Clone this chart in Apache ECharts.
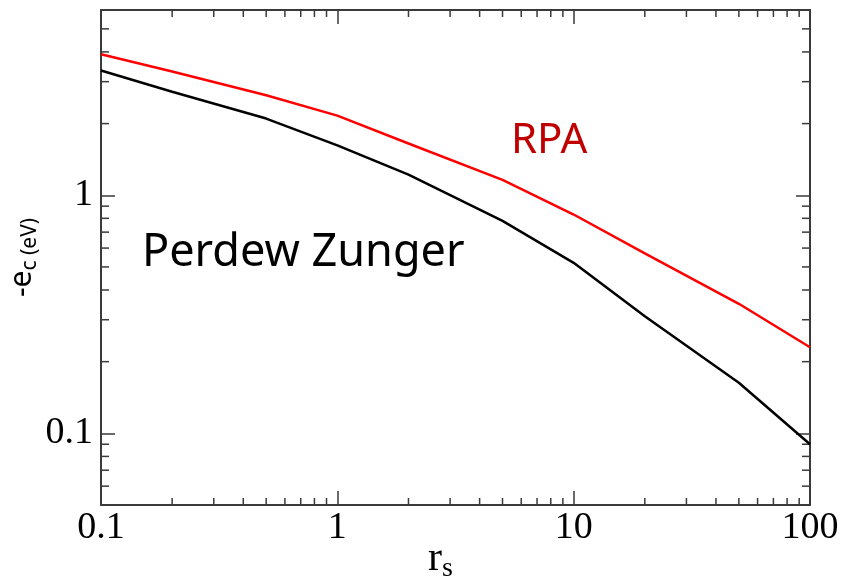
<!DOCTYPE html>
<html>
<head>
<meta charset="utf-8">
<script src="https://cdn.jsdelivr.net/npm/echarts@6/dist/echarts.min.js"></script>
<style>
  html, body { margin: 0; padding: 0; background: #fff; }
  #main { width: 843px; height: 582px; }
</style>
</head>
<body>
<div id="main"></div>
<script>
// r_s values and correlation energies (eV)
var rsValues = [0.1, 0.2, 0.5, 1, 2, 5, 10, 20, 50, 100];
var rpaValues = [3.91, 3.31, 2.63, 2.16, 1.65, 1.16, 0.83, 0.57, 0.35, 0.23];
var pzValues = [3.34, 2.72, 2.10, 1.62, 1.22, 0.78, 0.52, 0.31, 0.163, 0.09];

// tick labels and minor tick positions
var xTickLabels = ['0.1', '1', '10', '100'];
var yTickLabels = ['0.1', '1'];
var xMinorTicks = [0.2, 0.3, 0.4, 0.5, 0.6, 0.7, 0.8, 0.9, 2, 3, 4, 5, 6, 7, 8, 9, 20, 30, 40, 50, 60, 70, 80, 90];
var yMinorTicks = [0.06, 0.07, 0.08, 0.09, 0.2, 0.3, 0.4, 0.5, 0.6, 0.7, 0.8, 0.9, 2, 3, 4, 5];

var frameColor = '#3a3a3a';
var chart = echarts.init(document.getElementById('main'));

function pairs(xs, ys) {
	var out = [];
	for (var i = 0; i < xs.length; i++) {
		out.push([xs[i], ys[i]]);
	}
	return out;
}

function labelFmt(list) {
	return function (value) {
		for (var i = 0; i < list.length; i++) {
			if (Math.abs(value - parseFloat(list[i])) < 1e-6 * parseFloat(list[i])) {
				return list[i];
			}
		}
		return '';
	};
}

// minor ticks on the bottom and top edges
function renderXMinor(params, api) {
	var cs = params.coordSys;
	var px = api.coord([api.value(0), 1])[0];
	var st = { stroke: frameColor, lineWidth: 1.5 };
	return {
		type: 'group',
		children: [
			{ type: 'line', shape: { x1: px, y1: cs.y + cs.height, x2: px, y2: cs.y + cs.height - 7 }, style: st },
			{ type: 'line', shape: { x1: px, y1: cs.y, x2: px, y2: cs.y + 7 }, style: st }
		]
	};
}

// minor ticks on the left and right edges
function renderYMinor(params, api) {
	var cs = params.coordSys;
	var py = api.coord([1, api.value(1)])[1];
	var st = { stroke: frameColor, lineWidth: 1.5 };
	return {
		type: 'group',
		children: [
			{ type: 'line', shape: { x1: cs.x, y1: py, x2: cs.x + 8, y2: py }, style: st },
			{ type: 'line', shape: { x1: cs.x + cs.width, y1: py, x2: cs.x + cs.width - 8, y2: py }, style: st }
		]
	};
}

var xMinorData = [], yMinorData = [];
for (var i = 0; i < xMinorTicks.length; i++) { xMinorData.push([xMinorTicks[i], 1]); }
for (var j = 0; j < yMinorTicks.length; j++) { yMinorData.push([1, yMinorTicks[j]]); }

var axisLineStyle = { show: true, lineStyle: { color: frameColor, width: 2 } };
var majorTick = { show: true, inside: true, length: 14, lineStyle: { color: frameColor, width: 1.5 } };

var option = {
	animation: false,
	backgroundColor: '#fff',
	grid: { left: 101, right: 33, top: 10, bottom: 77, containLabel: false, outerBoundsMode: 'none' },
	xAxis: [
		{
			type: 'log',
			min: 0.1,
			max: 100,
			logBase: 10,
			position: 'bottom',
			axisLine: axisLineStyle,
			axisTick: majorTick,
			splitLine: { show: false },
			axisLabel: {
				formatter: labelFmt(xTickLabels),
				fontFamily: 'Liberation Serif',
				fontSize: 38,
				color: '#000',
				margin: 4
			},
			name: '{r|r}{s|s}',
			nameLocation: 'middle',
			nameGap: 30,
			nameMoveOverlap: false,
			nameTextStyle: {
				padding: [0, 30, 0, 0],
				rich: {
					r: { fontFamily: 'Liberation Serif', fontSize: 42, color: '#000' },
					s: { fontFamily: 'Liberation Serif', fontSize: 28, color: '#000', padding: [20, 0, 0, 0] }
				}
			}
		},
		{
			type: 'log',
			min: 0.1,
			max: 100,
			logBase: 10,
			position: 'top',
			axisLine: axisLineStyle,
			axisTick: majorTick,
			splitLine: { show: false },
			axisLabel: { show: false }
		}
	],
	yAxis: [
		{
			type: 'log',
			min: 0.05,
			max: 6,
			logBase: 10,
			position: 'left',
			axisLine: axisLineStyle,
			axisTick: majorTick,
			splitLine: { show: false },
			axisLabel: {
				formatter: labelFmt(yTickLabels),
				fontFamily: 'Liberation Serif',
				fontSize: 38,
				color: '#000',
				margin: 8
			},
			name: '{a|-e}{b|c (eV)}',
			nameLocation: 'middle',
			nameRotate: 90,
			nameGap: 60,
			nameMoveOverlap: false,
			nameTextStyle: {
				rich: {
					a: { fontFamily: 'Noto Sans', fontSize: 30, color: '#000' },
					b: { fontFamily: 'Noto Sans', fontSize: 21, color: '#000', padding: [16, 0, 0, 0] }
				}
			}
		},
		{
			type: 'log',
			min: 0.05,
			max: 6,
			logBase: 10,
			position: 'right',
			axisLine: axisLineStyle,
			axisTick: majorTick,
			splitLine: { show: false },
			axisLabel: { show: false }
		}
	],
	series: [
		{
			name: 'RPA',
			type: 'line',
			data: pairs(rsValues, rpaValues),
			showSymbol: false,
			lineStyle: { color: '#ff0000', width: 2.5 },
			itemStyle: { color: '#ff0000' },
			silent: true
		},
		{
			name: 'Perdew Zunger',
			type: 'line',
			data: pairs(rsValues, pzValues),
			showSymbol: false,
			lineStyle: { color: '#000', width: 2.5 },
			itemStyle: { color: '#000' },
			silent: true
		},
		{
			type: 'custom',
			renderItem: renderXMinor,
			data: xMinorData,
			clip: false,
			silent: true
		},
		{
			type: 'custom',
			renderItem: renderYMinor,
			data: yMinorData,
			clip: false,
			silent: true
		}
	],
	graphic: [
		{
			type: 'text',
			left: 142,
			top: 231,
			style: { text: 'Perdew Zunger', fontFamily: 'Noto Sans', fontSize: 45, fill: '#000' }
		},
		{
			type: 'text',
			left: 511,
			top: 120,
			style: { text: 'RPA', fontFamily: 'Noto Sans', fontSize: 42, fill: '#c00000' }
		}
	]
};

chart.setOption(option);
</script>
</body>
</html>
